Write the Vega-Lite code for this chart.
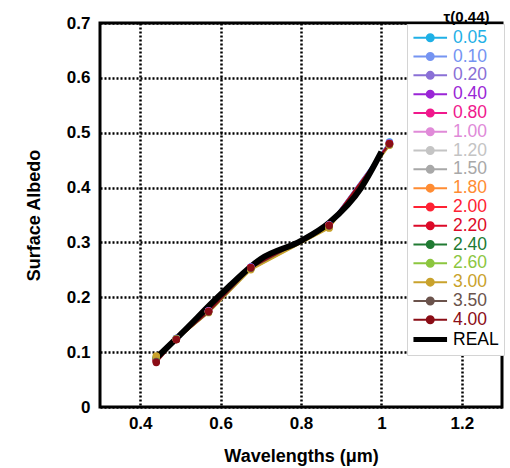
{
  "$schema": "https://vega.github.io/schema/vega-lite/v6.json",
  "width": 402,
  "height": 384,
  "autosize": {"type": "none"},
  "padding": {"left": 100, "top": 23, "right": 8, "bottom": 61},
  "background": "white",
  "title": {"text": "τ(0.44)", "anchor": "end", "dx": -15, "dy": 14, "offset": 3, "font": "Liberation Sans", "fontSize": 15, "fontWeight": "bold", "color": "black"},
  "config": {
    "view": {"stroke": "black", "strokeWidth": 3},
    "axis": {
      "domain": false, "ticks": false,
      "grid": true, "gridColor": "black", "gridDash": [2, 2], "gridWidth": 2.5, "gridOpacity": 1,
      "labelFont": "Liberation Sans", "labelFontSize": 17, "labelFontWeight": "bold", "labelColor": "black",
      "titleFont": "Liberation Sans", "titleFontSize": 18, "titleFontWeight": "bold", "titleColor": "black"
    }
  },
  "datasets": {
    "tau": [
      {"series": "0.05", "wl": 0.44, "albedo": 0.088}, {"series": "0.05", "wl": 0.49, "albedo": 0.125}, {"series": "0.05", "wl": 0.57, "albedo": 0.175}, {"series": "0.05", "wl": 0.675, "albedo": 0.255}, {"series": "0.05", "wl": 0.87, "albedo": 0.332}, {"series": "0.05", "wl": 1.02, "albedo": 0.483},
      {"series": "0.10", "wl": 0.44, "albedo": 0.088}, {"series": "0.10", "wl": 0.49, "albedo": 0.125}, {"series": "0.10", "wl": 0.57, "albedo": 0.175}, {"series": "0.10", "wl": 0.675, "albedo": 0.255}, {"series": "0.10", "wl": 0.87, "albedo": 0.332}, {"series": "0.10", "wl": 1.02, "albedo": 0.482},
      {"series": "0.20", "wl": 0.44, "albedo": 0.087}, {"series": "0.20", "wl": 0.49, "albedo": 0.125}, {"series": "0.20", "wl": 0.57, "albedo": 0.175}, {"series": "0.20", "wl": 0.675, "albedo": 0.255}, {"series": "0.20", "wl": 0.87, "albedo": 0.332}, {"series": "0.20", "wl": 1.02, "albedo": 0.482},
      {"series": "0.40", "wl": 0.44, "albedo": 0.087}, {"series": "0.40", "wl": 0.49, "albedo": 0.125}, {"series": "0.40", "wl": 0.57, "albedo": 0.175}, {"series": "0.40", "wl": 0.675, "albedo": 0.255}, {"series": "0.40", "wl": 0.87, "albedo": 0.331}, {"series": "0.40", "wl": 1.02, "albedo": 0.481},
      {"series": "0.80", "wl": 0.44, "albedo": 0.086}, {"series": "0.80", "wl": 0.49, "albedo": 0.124}, {"series": "0.80", "wl": 0.57, "albedo": 0.174}, {"series": "0.80", "wl": 0.675, "albedo": 0.254}, {"series": "0.80", "wl": 0.87, "albedo": 0.331}, {"series": "0.80", "wl": 1.02, "albedo": 0.480},
      {"series": "1.00", "wl": 0.44, "albedo": 0.086}, {"series": "1.00", "wl": 0.49, "albedo": 0.124}, {"series": "1.00", "wl": 0.57, "albedo": 0.174}, {"series": "1.00", "wl": 0.675, "albedo": 0.254}, {"series": "1.00", "wl": 0.87, "albedo": 0.331}, {"series": "1.00", "wl": 1.02, "albedo": 0.480},
      {"series": "1.20", "wl": 0.44, "albedo": 0.087}, {"series": "1.20", "wl": 0.49, "albedo": 0.124}, {"series": "1.20", "wl": 0.57, "albedo": 0.174}, {"series": "1.20", "wl": 0.675, "albedo": 0.253}, {"series": "1.20", "wl": 0.87, "albedo": 0.330}, {"series": "1.20", "wl": 1.02, "albedo": 0.480},
      {"series": "1.50", "wl": 0.44, "albedo": 0.088}, {"series": "1.50", "wl": 0.49, "albedo": 0.124}, {"series": "1.50", "wl": 0.57, "albedo": 0.174}, {"series": "1.50", "wl": 0.675, "albedo": 0.253}, {"series": "1.50", "wl": 0.87, "albedo": 0.330}, {"series": "1.50", "wl": 1.02, "albedo": 0.479},
      {"series": "1.80", "wl": 0.44, "albedo": 0.089}, {"series": "1.80", "wl": 0.49, "albedo": 0.124}, {"series": "1.80", "wl": 0.57, "albedo": 0.173}, {"series": "1.80", "wl": 0.675, "albedo": 0.252}, {"series": "1.80", "wl": 0.87, "albedo": 0.329}, {"series": "1.80", "wl": 1.02, "albedo": 0.479},
      {"series": "2.00", "wl": 0.44, "albedo": 0.085}, {"series": "2.00", "wl": 0.49, "albedo": 0.123}, {"series": "2.00", "wl": 0.57, "albedo": 0.174}, {"series": "2.00", "wl": 0.675, "albedo": 0.254}, {"series": "2.00", "wl": 0.87, "albedo": 0.331}, {"series": "2.00", "wl": 1.02, "albedo": 0.480},
      {"series": "2.20", "wl": 0.44, "albedo": 0.084}, {"series": "2.20", "wl": 0.49, "albedo": 0.123}, {"series": "2.20", "wl": 0.57, "albedo": 0.174}, {"series": "2.20", "wl": 0.675, "albedo": 0.254}, {"series": "2.20", "wl": 0.87, "albedo": 0.331}, {"series": "2.20", "wl": 1.02, "albedo": 0.480},
      {"series": "2.40", "wl": 0.44, "albedo": 0.090}, {"series": "2.40", "wl": 0.49, "albedo": 0.124}, {"series": "2.40", "wl": 0.57, "albedo": 0.173}, {"series": "2.40", "wl": 0.675, "albedo": 0.252}, {"series": "2.40", "wl": 0.87, "albedo": 0.328}, {"series": "2.40", "wl": 1.02, "albedo": 0.478},
      {"series": "2.60", "wl": 0.44, "albedo": 0.091}, {"series": "2.60", "wl": 0.49, "albedo": 0.124}, {"series": "2.60", "wl": 0.57, "albedo": 0.173}, {"series": "2.60", "wl": 0.675, "albedo": 0.251}, {"series": "2.60", "wl": 0.87, "albedo": 0.327}, {"series": "2.60", "wl": 1.02, "albedo": 0.478},
      {"series": "3.00", "wl": 0.44, "albedo": 0.093}, {"series": "3.00", "wl": 0.49, "albedo": 0.123}, {"series": "3.00", "wl": 0.57, "albedo": 0.172}, {"series": "3.00", "wl": 0.675, "albedo": 0.250}, {"series": "3.00", "wl": 0.87, "albedo": 0.326}, {"series": "3.00", "wl": 1.02, "albedo": 0.477},
      {"series": "3.50", "wl": 0.44, "albedo": 0.083}, {"series": "3.50", "wl": 0.49, "albedo": 0.123}, {"series": "3.50", "wl": 0.57, "albedo": 0.173}, {"series": "3.50", "wl": 0.675, "albedo": 0.253}, {"series": "3.50", "wl": 0.87, "albedo": 0.330}, {"series": "3.50", "wl": 1.02, "albedo": 0.479},
      {"series": "4.00", "wl": 0.44, "albedo": 0.081}, {"series": "4.00", "wl": 0.49, "albedo": 0.123}, {"series": "4.00", "wl": 0.57, "albedo": 0.174}, {"series": "4.00", "wl": 0.675, "albedo": 0.254}, {"series": "4.00", "wl": 0.87, "albedo": 0.331}, {"series": "4.00", "wl": 1.02, "albedo": 0.480}
    ],
    "real": [
      {"series": "REAL", "wl": 0.445, "albedo": 0.093},
      {"series": "REAL", "wl": 0.5, "albedo": 0.132},
      {"series": "REAL", "wl": 0.6, "albedo": 0.205},
      {"series": "REAL", "wl": 0.7, "albedo": 0.27},
      {"series": "REAL", "wl": 0.8, "albedo": 0.303},
      {"series": "REAL", "wl": 0.87, "albedo": 0.336},
      {"series": "REAL", "wl": 0.95, "albedo": 0.4},
      {"series": "REAL", "wl": 1.0, "albedo": 0.465}
    ]
  },
  "encoding": {
    "x": {"field": "wl", "type": "quantitative", "title": "Wavelengths (μm)",
      "scale": {"domain": [0.3, 1.3], "nice": false, "zero": false},
      "axis": {"values": [0.4, 0.6, 0.8, 1.0, 1.2], "format": "~g", "labelPadding": 8, "titlePadding": 16}},
    "y": {"field": "albedo", "type": "quantitative", "title": "Surface Albedo",
      "scale": {"domain": [0, 0.7], "nice": false},
      "axis": {"values": [0, 0.1, 0.2, 0.3, 0.4, 0.5, 0.6, 0.7], "format": "~g", "labelPadding": 10, "titlePadding": 23}},
    "color": {"field": "series", "type": "nominal",
      "scale": {
        "domain": ["0.05", "0.10", "0.20", "0.40", "0.80", "1.00", "1.20", "1.50", "1.80", "2.00", "2.20", "2.40", "2.60", "3.00", "3.50", "4.00", "REAL"],
        "range": ["#1fb0e6", "#7594f2", "#8a70d6", "#9a25d6", "#f0188c", "#e08ad8", "#c4c4c4", "#a8a8a8", "#ff8c33", "#ff2233", "#dc0a28", "#217a33", "#8cc63f", "#c9a22c", "#6b534c", "#8b0d16", "#000000"]
      },
      "legend": {
        "title": null,
        "orient": "none", "legendX": 307, "legendY": 1,
        "fillColor": "white", "strokeColor": "#d4d4d4", "padding": 5,
        "symbolSize": 196, "symbolStrokeWidth": 2, "symbolOffset": 9.5,
        "labelOffset": 14, "labelFont": "Liberation Sans", "labelFontSize": 17.5,
        "rowPadding": -0.2,
        "encode": {
          "symbols": {"update": {
            "shape": {"signal": "datum.value === 'REAL' ? 'M-2.4,0H2.4' : 'M-2.4,0H2.4M-0.5,0A0.5,0.5,0,1,0,0.5,0A0.5,0.5,0,1,0,-0.5,0Z'"},
            "fill": {"signal": "scale('color', datum.value)"},
            "stroke": {"signal": "scale('color', datum.value)"},
            "strokeWidth": {"signal": "datum.value === 'REAL' ? 5 : 2"},
            "opacity": {"value": 1},
            "fillOpacity": {"value": 1},
            "strokeOpacity": {"value": 1}
          }},
          "labels": {"update": {"fill": {"signal": "scale('color', datum.value)"}}}
        }
      }
    }
  },
  "layer": [
    {"data": {"name": "tau"}, "mark": {"type": "line", "strokeWidth": 2}},
    {"data": {"name": "real"}, "mark": {"type": "line", "strokeWidth": 6, "interpolate": "monotone"}},
    {"data": {"name": "tau"}, "mark": {"type": "point", "filled": true, "size": 55, "opacity": 1}}
  ]
}
